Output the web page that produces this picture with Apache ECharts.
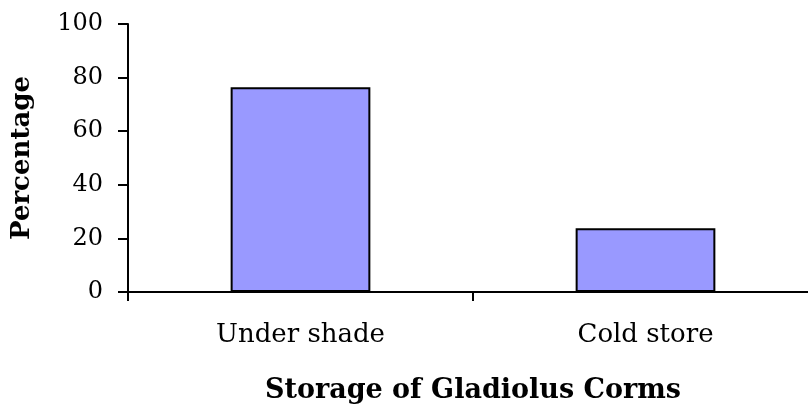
<!DOCTYPE html>
<html>
<head>
<meta charset="utf-8">
<script src="https://cdn.jsdelivr.net/npm/echarts@6/dist/echarts.min.js"></script>
<style>
  html, body { margin: 0; padding: 0; background: #fff; }
  #chart { width: 808px; height: 412px; }
</style>
</head>
<body>
<div id="chart"></div>
<script>
// data
const categories = ['Under shade', 'Cold store']
const percentValues = [76.4, 23.8]
const yMin = 0
const yMax = 100
const yStep = 20

const font = '"DejaVu Serif", "Liberation Serif", serif'

let mychart = echarts.init(document.getElementById('chart'))
let option = {
  animation: false,
  grid: {
    left: 128,
    right: -10, // axis runs past the right edge in the original
    top: 24,
    bottom: 120,
    containLabel: false,
    outerBoundsMode: 'none',
  },
  xAxis: {
    type: 'category',
    data: categories,
    name: 'Storage of Gladiolus Corms',
    nameLocation: 'middle',
    nameGap: 85,
    nameTextStyle: {
      color: '#000',
      fontFamily: font,
      fontSize: 27,
      fontWeight: 'bold',
    },
    axisLine: { lineStyle: { color: '#000', width: 2 } },
    axisTick: { show: true, length: 9, lineStyle: { color: '#000', width: 2 } },
    axisLabel: {
      color: '#000',
      fontFamily: font,
      fontSize: 26,
      margin: 30,
    },
  },
  yAxis: {
    type: 'value',
    min: yMin,
    max: yMax,
    interval: yStep,
    name: 'Percentage',
    nameLocation: 'middle',
    nameGap: 93,
    nameRotate: 90,
    nameTextStyle: {
      color: '#000',
      fontFamily: font,
      fontSize: 26,
      fontWeight: 'bold',
    },
    axisLine: { show: true, lineStyle: { color: '#000', width: 2 } },
    axisTick: { show: true, length: 10, lineStyle: { color: '#000', width: 2 } },
    axisLabel: {
      color: '#000',
      fontFamily: font,
      fontSize: 24,
      margin: 25,
    },
    splitLine: { show: false },
  },
  series: [
    {
      type: 'bar',
      data: percentValues,
      barWidth: '40.5%',
      itemStyle: {
        color: '#9999FF',
        borderColor: '#000',
        borderWidth: 2,
      },
    },
  ],
}
mychart.setOption(option)
</script>
</body>
</html>
